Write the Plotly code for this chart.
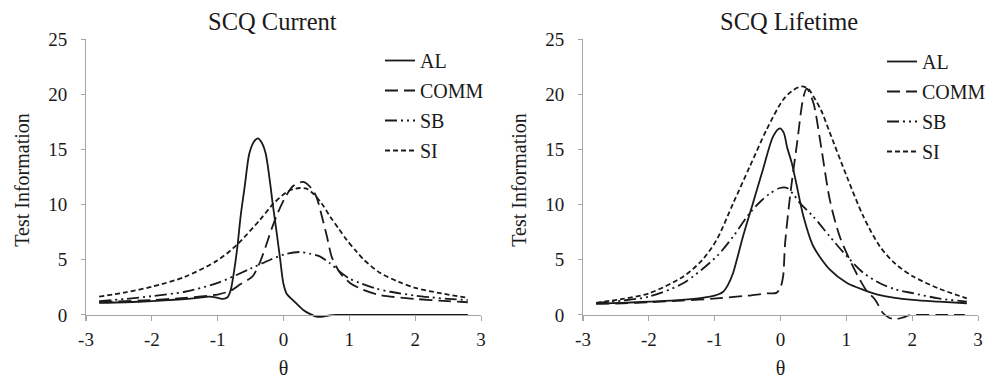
import plotly.graph_objects as go

# ---------------- data ----------------
# SCQ Current
cur_al_theta = [-2.8, -2.4, -2.0, -1.6, -1.3, -1.13, -1.0, -0.92, -0.85, -0.8, -0.75, -0.7, -0.65, -0.59,
                -0.52, -0.45, -0.39, -0.33, -0.27, -0.2, -0.165, -0.1, -0.05, 0.0, 0.05, 0.15, 0.3, 0.4,
                0.5, 0.6, 0.7, 0.8, 1.2, 2.0, 2.8]
cur_al_info = [1.1, 1.15, 1.25, 1.4, 1.55, 1.66, 1.55, 1.45, 1.6, 2.3, 4.0, 6.2, 9.0, 11.6,
               14.6, 15.7, 16.0, 15.6, 14.6, 11.8, 10.1, 7.3, 5.0, 2.8, 1.9, 1.3, 0.45, 0.1,
               -0.15, -0.15, -0.05, 0.0, 0.0, 0.0, 0.0]

cur_comm_theta = [-2.8, -2.0, -1.5, -1.0, -0.8, -0.65, -0.47, -0.37, -0.27, -0.18, -0.09, 0.04, 0.15, 0.3,
                  0.42, 0.5, 0.58, 0.66, 0.73, 0.8, 0.86, 1.01, 1.2, 1.47, 2.0, 2.5, 2.8]
cur_comm_info = [1.15, 1.35, 1.55, 1.85, 2.2, 2.8, 3.5, 4.6, 6.2, 7.8, 9.2, 10.8, 11.7, 12.05,
                 11.5, 10.7, 9.0, 7.1, 5.3, 4.4, 3.8, 2.9, 2.3, 1.8, 1.45, 1.25, 1.15]

cur_sb_theta = [-2.8, -2.4, -2.0, -1.5, -1.0, -0.5, -0.2, 0.05, 0.25, 0.4, 0.55, 0.7, 0.86, 1.0, 1.16,
                1.4, 1.62, 2.0, 2.23, 2.5, 2.8]
cur_sb_info = [1.25, 1.45, 1.7, 2.1, 2.9, 4.2, 5.0, 5.55, 5.7, 5.55, 5.3, 4.7, 3.9, 3.3, 2.9,
               2.4, 2.1, 1.75, 1.6, 1.45, 1.35]

cur_si_theta = [-2.8, -2.4, -2.0, -1.5, -1.0, -0.7, -0.36, -0.15, 0.04, 0.15, 0.25, 0.35, 0.45, 0.58,
                0.71, 0.84, 0.96, 1.1, 1.22, 1.47, 1.75, 2.0, 2.4, 2.8]
cur_si_info = [1.66, 2.05, 2.55, 3.45, 4.95, 6.4, 8.6, 10.1, 11.1, 11.4, 11.5, 11.45, 11.0, 10.1,
               8.9, 7.8, 6.8, 5.8, 5.0, 3.8, 3.0, 2.45, 1.95, 1.55]

# SCQ Lifetime
life_al_theta = [-2.8, -2.4, -2.0, -1.5, -1.07, -0.95, -0.87, -0.8, -0.72, -0.65, -0.57, -0.42, -0.27,
                 -0.11, -0.01, 0.05, 0.1, 0.17, 0.23, 0.35, 0.5, 0.75, 1.01, 1.25, 1.51, 2.01, 2.4, 2.83]
life_al_info = [1.05, 1.1, 1.2, 1.36, 1.66, 1.85, 2.1, 2.7, 3.8, 5.3, 7.1, 10.1, 13.1,
                16.2, 16.9, 16.5, 15.2, 13.8, 12.2, 8.9, 6.2, 4.1, 2.9, 2.3, 1.8, 1.36, 1.2, 1.06]

life_comm_theta = [-2.8, -2.4, -2.0, -1.5, -0.97, -0.5, -0.2, -0.06, 0.0, 0.04, 0.07, 0.15, 0.25, 0.35,
                   0.4, 0.5, 0.61, 0.75, 0.9, 1.1, 1.3, 1.44, 1.56, 1.65, 1.74, 1.85, 1.95, 2.0, 2.4, 2.8]
life_comm_info = [1.0, 1.05, 1.15, 1.3, 1.5, 1.75, 1.95, 2.0, 2.5, 3.5, 6.5, 11.0, 15.5, 19.8,
                  20.5, 19.2, 15.5, 10.4, 7.1, 4.4, 2.26, 1.36, 0.15, -0.25, -0.4, -0.25, -0.05, 0.0, 0.0, 0.0]

life_sb_theta = [-2.8, -2.4, -2.0, -1.48, -0.97, -0.72, -0.47, -0.3, -0.16, -0.01, 0.1, 0.2, 0.3, 0.5,
                 0.75, 1.01, 1.26, 1.51, 1.75, 2.01, 2.4, 2.83]
life_sb_info = [1.1, 1.3, 1.66, 2.87, 5.3, 7.1, 9.2, 10.3, 11.0, 11.5, 11.5, 10.9, 10.1, 8.9,
                7.1, 5.3, 3.8, 2.87, 2.3, 1.97, 1.5, 1.2]

life_si_theta = [-2.8, -2.4, -1.99, -1.48, -1.2, -0.97, -0.72, -0.47, -0.21, 0.04, 0.2, 0.32, 0.42, 0.5,
                 0.62, 0.75, 1.01, 1.26, 1.51, 1.75, 2.01, 2.4, 2.83]
life_si_info = [1.1, 1.45, 1.97, 3.47, 4.9, 6.8, 10.1, 13.4, 16.8, 19.5, 20.4, 20.7, 20.5, 19.8,
                18.5, 16.5, 12.5, 8.9, 6.2, 4.6, 3.5, 2.4, 1.5]

series_names = ["AL", "COMM", "SB", "SI"]
panel_titles = ["SCQ Current", "SCQ Lifetime"]
x_tick_values = [-3, -2, -1, 0, 1, 2, 3]
x_tick_labels = ["-3", "-2", "-1", "0", "1", "2", "3"]
y_tick_values = [0, 5, 10, 15, 20, 25]
y_tick_labels = ["0", "5", "10", "15", "20", "25"]

# ---------------- styling ----------------
FONT = "Liberation Serif, Times New Roman, serif"
INK = "#1a1a1a"
AXIS = "#a6a6a6"
dashes = {"AL": "solid", "COMM": "13px,6px", "SB": "12px,4px,2px,4px,2px,4px", "SI": "5px,3px"}

W, H = 997, 379
OFF = 8  # the page body adds an 8px margin; positions below are given in screen pixels

def px_x(p): return (p - OFF) / W
def px_y(p): return (H - (p - OFF)) / H

fig = go.Figure()

panels = [
    ("x", "y", "legend", [(cur_al_theta, cur_al_info), (cur_comm_theta, cur_comm_info),
                          (cur_sb_theta, cur_sb_info), (cur_si_theta, cur_si_info)]),
    ("x2", "y2", "legend2", [(life_al_theta, life_al_info), (life_comm_theta, life_comm_info),
                             (life_sb_theta, life_sb_info), (life_si_theta, life_si_info)]),
]
for xa, ya, lg, data in panels:
    for name, (t, v) in zip(series_names, data):
        fig.add_trace(go.Scatter(
            x=t, y=v, mode="lines", name=name, xaxis=xa, yaxis=ya, legend=lg,
            legendgroup=lg + name,
            line=dict(color=INK, width=1.8, dash=dashes[name], shape="spline", smoothing=0.8),
            hoverinfo="skip",
        ))

tickfont = dict(family=FONT, size=19, color=INK)
ybot, ytop = 321.0, 39.0   # screen pixel extent of plot area (y=-0.55 .. 25)
x_axis_pos = px_y(315)

def xaxis(dom):
    return dict(domain=dom, range=[-3, 3], tickvals=x_tick_values, ticktext=x_tick_labels,
                showline=True, linecolor=AXIS, linewidth=1,
                ticks="outside", ticklen=5, tickcolor=AXIS, showgrid=False, zeroline=False,
                tickfont=tickfont, anchor="free", position=x_axis_pos, automargin=False,
                ticklabelstandoff=2,
                title=dict(text="θ", font=dict(family=FONT, size=20, color=INK), standoff=12))

def yaxis(anchor):
    return dict(domain=[px_y(ybot), px_y(ytop)], range=[-0.55, 25], tickvals=y_tick_values,
                ticktext=y_tick_labels, showline=True,
                linecolor=AXIS, linewidth=1, ticks="outside", ticklen=4, tickcolor=AXIS, showgrid=False,
                zeroline=False, tickfont=tickfont, anchor=anchor, automargin=False,
                ticklabelstandoff=10,
                title=dict(text="Test Information", font=dict(family=FONT, size=20, color=INK), standoff=13))

legend_common = dict(font=dict(family=FONT, size=20, color=INK), bgcolor="rgba(0,0,0,0)",
                     tracegroupgap=1, xanchor="left", yanchor="top", itemclick=False)

fig.update_layout(
    width=W, height=H, margin=dict(l=0, r=0, t=0, b=0, autoexpand=False),
    paper_bgcolor="white", plot_bgcolor="white",
    font=dict(family=FONT, color=INK),
    xaxis=xaxis([px_x(86), px_x(481)]),
    xaxis2=xaxis([px_x(583), px_x(978)]),
    yaxis=yaxis("x"),
    yaxis2=yaxis("x2"),
    legend=dict(x=px_x(380), y=px_y(41), **legend_common),
    legend2=dict(x=px_x(882), y=px_y(42), **legend_common),
    annotations=[
        dict(text=panel_titles[0], x=px_x(272), y=px_y(21), xref="paper", yref="paper",
             xanchor="center", yanchor="middle",
             showarrow=False, font=dict(family=FONT, size=24.5, color=INK)),
        dict(text=panel_titles[1], x=px_x(789), y=px_y(21), xref="paper", yref="paper",
             xanchor="center", yanchor="middle",
             showarrow=False, font=dict(family=FONT, size=24.5, color=INK)),
    ],
)

fig.write_html("out.html")
